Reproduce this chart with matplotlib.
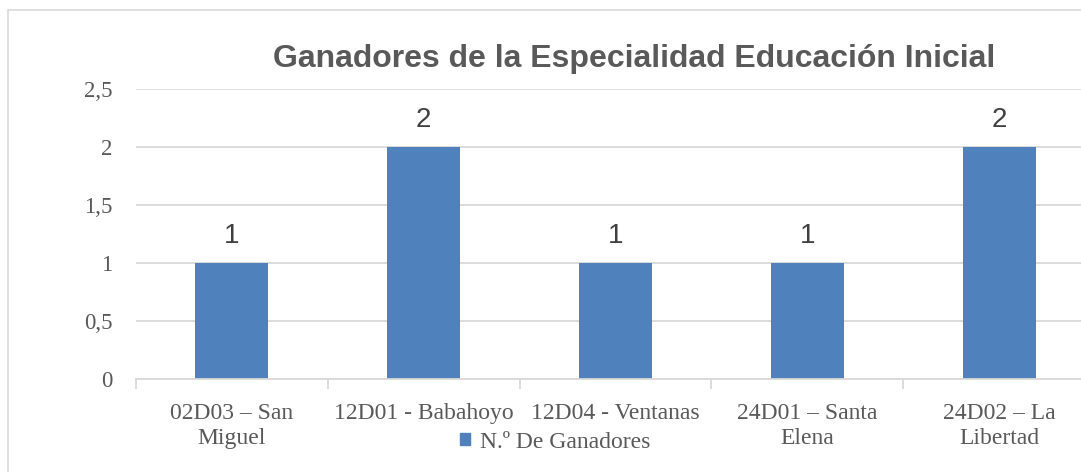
import matplotlib
matplotlib.use("Agg")
import matplotlib.pyplot as plt
from matplotlib.patches import Rectangle, Patch

# data
distritos = ["02D03 – San\nMiguel", "12D01 - Babahoyo", "12D04 - Ventanas",
             "24D01 – Santa\nElena", "24D02 – La\nLibertad"]
ganadores = [1, 2, 1, 1, 2]
y_ticks = [0, 0.5, 1, 1.5, 2, 2.5]
y_labels = ["0", "0,5", "1", "1,5", "2", "2,5"]

bar_color = "#4F81BD"
grid_color = "#D9D9D9"
text_gray = "#595959"
serif = ["Liberation Serif", "DejaVu Serif"]
sans = ["Liberation Sans", "DejaVu Sans"]

W, H = 1081, 472
fig = plt.figure(figsize=(W / 100, H / 100), dpi=100)

# outer chart border (cut off at right and bottom, as in the source)
fig.patches.append(Rectangle((8 / W, -0.1), 1.2, 1 - 10 / H + 0.1,
                             transform=fig.transFigure, fill=False,
                             edgecolor=grid_color, linewidth=1.2))

ax = fig.add_axes([136 / W, 1 - 379 / H, (1095 - 136) / W, (379 - 89) / H])
x = list(range(len(distritos)))
bars = ax.bar(x, ganadores, width=0.38, color=bar_color, zorder=3)

for b, v in zip(bars, ganadores):
    ax.text(b.get_x() + b.get_width() / 2, v + 0.23, str(v),
            ha="center", va="center", fontsize=20, color="#404040",
            family=sans)

ax.set_xlim(-0.5, len(distritos) - 0.5)
ax.set_ylim(0, 2.5)
ax.set_yticks(y_ticks)
ax.set_yticklabels(y_labels, family=serif, fontsize=16.5, color=text_gray)
ax.yaxis.grid(True, color=grid_color, linewidth=1.3, zorder=0)
ax.tick_params(axis="y", length=0, pad=17)

ax.set_xticks(x)
ax.set_xticklabels(distritos, family=serif, fontsize=17, color=text_gray,
                   linespacing=1.3)
ax.tick_params(axis="x", which="major", length=0, pad=17)
ax.set_xticks([i - 0.5 for i in range(len(distritos) + 1)], minor=True)
ax.tick_params(axis="x", which="minor", length=7, width=1.3, color=grid_color,
               direction="out")

for s in ["top", "right", "left"]:
    ax.spines[s].set_visible(False)
ax.spines["bottom"].set_color(grid_color)
ax.spines["bottom"].set_linewidth(1.3)
ax.spines["bottom"].set_zorder(4)

fig.text(634 / W, 1 - 59 / H, "Ganadores de la Especialidad Educación Inicial",
         ha="center", va="center", fontsize=23, fontweight="bold",
         color=text_gray, family=sans)

leg = fig.legend(handles=[Patch(color=bar_color, label="N.º De Ganadores")],
                 loc="center", bbox_to_anchor=(555 / W, 1 - 442 / H),
                 frameon=False, handlelength=0.45, handleheight=0.45,
                 handletextpad=0.4, borderpad=0, borderaxespad=0,
                 prop={"family": serif, "size": 17})
for t in leg.get_texts():
    t.set_color(text_gray)

fig.savefig("out.png", dpi=100)
